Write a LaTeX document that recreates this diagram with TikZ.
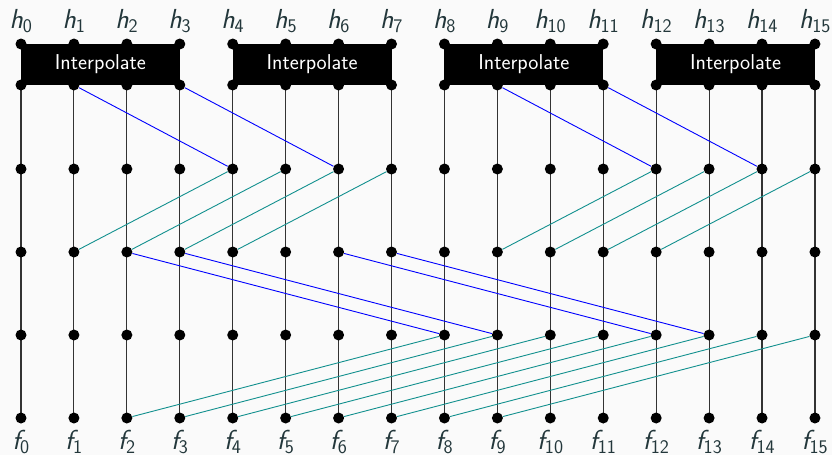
\documentclass[tikz,border=0pt]{standalone}
\usepackage{fontspec}
\usetikzlibrary{calc}
\definecolor{txt}{HTML}{23373B}
\definecolor{bgc}{HTML}{FAFAFA}
\definecolor{tealc}{HTML}{12908E}
\pgfdeclarelayer{back}
\pgfdeclarelayer{bg}
\pgfsetlayers{back,bg,main}
\begin{document}
\begin{tikzpicture}[x=1pt,y=-1pt,
  dot/.style={circle,fill=black,inner sep=0pt,minimum size=11pt},
  vline/.style={line width=1.1pt,black!80},
  blu/.style={blue,line width=0.9pt},
  tea/.style={tealc,line width=0.9pt},
  lab/.style={text=txt,font=\sffamily\fontsize{27.5}{30}\selectfont,anchor=base,inner sep=0pt},
  ibox/.style={fill=black},
  itxt/.style={text=white,font=\sffamily\fontsize{21.5}{24}\selectfont,inner sep=0pt}]
\begin{pgfonlayer}{back}
\fill[bgc] (0,0) rectangle (832,455);
\end{pgfonlayer}
\useasboundingbox (0,0) rectangle (832,455);
\foreach \i in {0,...,15}{
  \pgfmathsetmacro\x{21+52.93*\i}
  \node[dot] (t\i) at (\x,44) {};
  \node[dot] (b\i) at (\x,85) {};
  \node[dot] (c\i) at (\x,169) {};
  \node[dot] (d\i) at (\x,252) {};
  \node[dot] (e\i) at (\x,335) {};
  \node[dot] (g\i) at (\x,418) {};
  \node[lab] (h\i) at (\x,28) {{\itshape h}\textsubscript{\i}};
  \node[lab] (f\i) at (\x,449.5) {{\itshape f}\textsubscript{\i}};
  \begin{pgfonlayer}{bg}
    \draw[vline] (b\i.center) -- (g\i.center);
  \end{pgfonlayer}
}
\begin{pgfonlayer}{bg}
\foreach \a/\b in {0/3,4/7,8/11,12/15}{
  \fill[ibox] (t\a.center) rectangle (b\b.center);
}
\end{pgfonlayer}
\foreach \a/\b in {0/3,4/7,8/11,12/15}{
  \node[itxt] (ip\a) at ($(t\a.center)!0.5!(b\b.center)$) {Interpolate};
}
% stage 1
\foreach \s/\t in {1/4,3/6,9/12,11/14}{ \draw[blu] (b\s) -- (c\t); }
% stage 2
\foreach \s/\t in {4/1,5/2,6/3,7/4,12/9,13/10,14/11,15/12}{ \draw[tea] (c\s) -- (d\t); }
% stage 3
\foreach \s/\t in {2/8,3/9,6/12,7/13}{ \draw[blu] (d\s) -- (e\t); }
% stage 4
\foreach \s/\t in {8/2,9/3,10/4,11/5,12/6,13/7,14/8,15/9}{ \draw[tea] (e\s) -- (g\t); }
\end{tikzpicture}
\end{document}
